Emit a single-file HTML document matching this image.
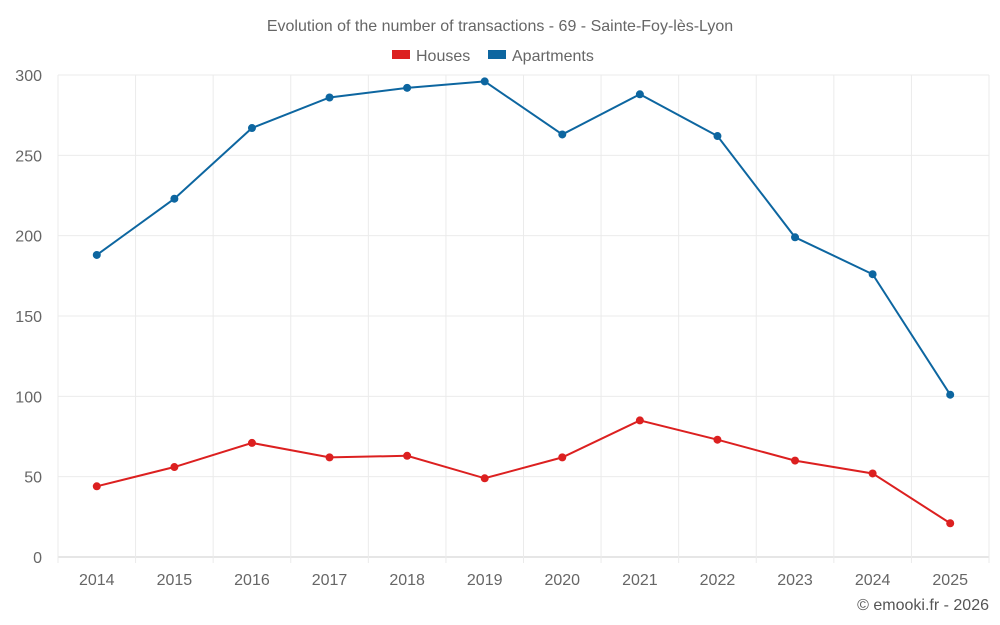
<!DOCTYPE html>
<html><head><meta charset="utf-8"><style>
body{margin:0;background:#fff;font-family:"Liberation Sans",sans-serif;}
</style></head><body>
<svg id="chart" width="1000" height="625" style="display:block">
<text x="500" y="31" text-anchor="middle" font-size="16" fill="#666">Evolution of the number of transactions - 69 - Sainte-Foy-lès-Lyon</text>
<g>
<g><rect x="392" y="50" width="18" height="9" fill="#dc2020"/><text x="416" y="61" font-size="16" fill="#666">Houses</text></g>
<g><rect x="488" y="50" width="18" height="9" fill="#0d66a0"/><text x="512" y="61" font-size="16" fill="#666">Apartments</text></g>
</g>
<g id="grid"></g><g id="axes"></g><g id="series"></g>
<text x="989" y="610" text-anchor="end" font-size="16" fill="#555">© emooki.fr - 2026</text>
</svg>
<script>
const years=["2014","2015","2016","2017","2018","2019","2020","2021","2022","2023","2024","2025"];
const houses=[44,56,71,62,63,49,62,85,73,60,52,21];
const apartments=[188,223,267,286,292,296,263,288,262,199,176,101];
const yTicks=[0,50,100,150,200,250,300];
const NS="http://www.w3.org/2000/svg";
const L=58,R=989,T=75,B=557,yMax=300;
const band=(R-L)/years.length;
const xs=i=>L+band*(i+0.5);
const ys=v=>B-(v/yMax)*(B-T);
function mk(t,a,p){const e=document.createElementNS(NS,t);for(const k in a)e.setAttribute(k,a[k]);p.appendChild(e);return e;}
const g=document.getElementById('grid'),ax=document.getElementById('axes'),s=document.getElementById('series');
yTicks.forEach(v=>{
 const l=mk('line',{x1:L,x2:R,y1:ys(v),y2:ys(v),stroke:v===0?'#ccc':'#ebebeb'},g);
 
 
 const t=mk('text',{x:L-16,y:ys(v)+6,'text-anchor':'end','font-size':16,fill:'#666'},ax);
 t.textContent=v;
 
 
});
for(let i=0;i<=years.length;i++){
 const x=L+band*i;
 const l=mk('line',{x1:x,x2:x,y1:T,y2:B+6,stroke:'#ebebeb'},g);
 
 
}
years.forEach((y,i)=>{
 const t=mk('text',{x:xs(i),y:585,'text-anchor':'middle','font-size':16,fill:'#666'},ax);
 t.textContent=y;
 
 
});
function series(data,color,name){
 const p=mk('polyline',{points:data.map((v,i)=>xs(i)+','+ys(v)).join(' '),fill:'none',stroke:color,'stroke-width':2},s);
 
 
 data.forEach((v,i)=>{
  const c=mk('circle',{cx:xs(i),cy:ys(v),r:4,fill:color},s);
  
  
 });
}
series(apartments,'#0d66a0','apartments');
series(houses,'#dc2020','houses');
</script>
</body></html>
